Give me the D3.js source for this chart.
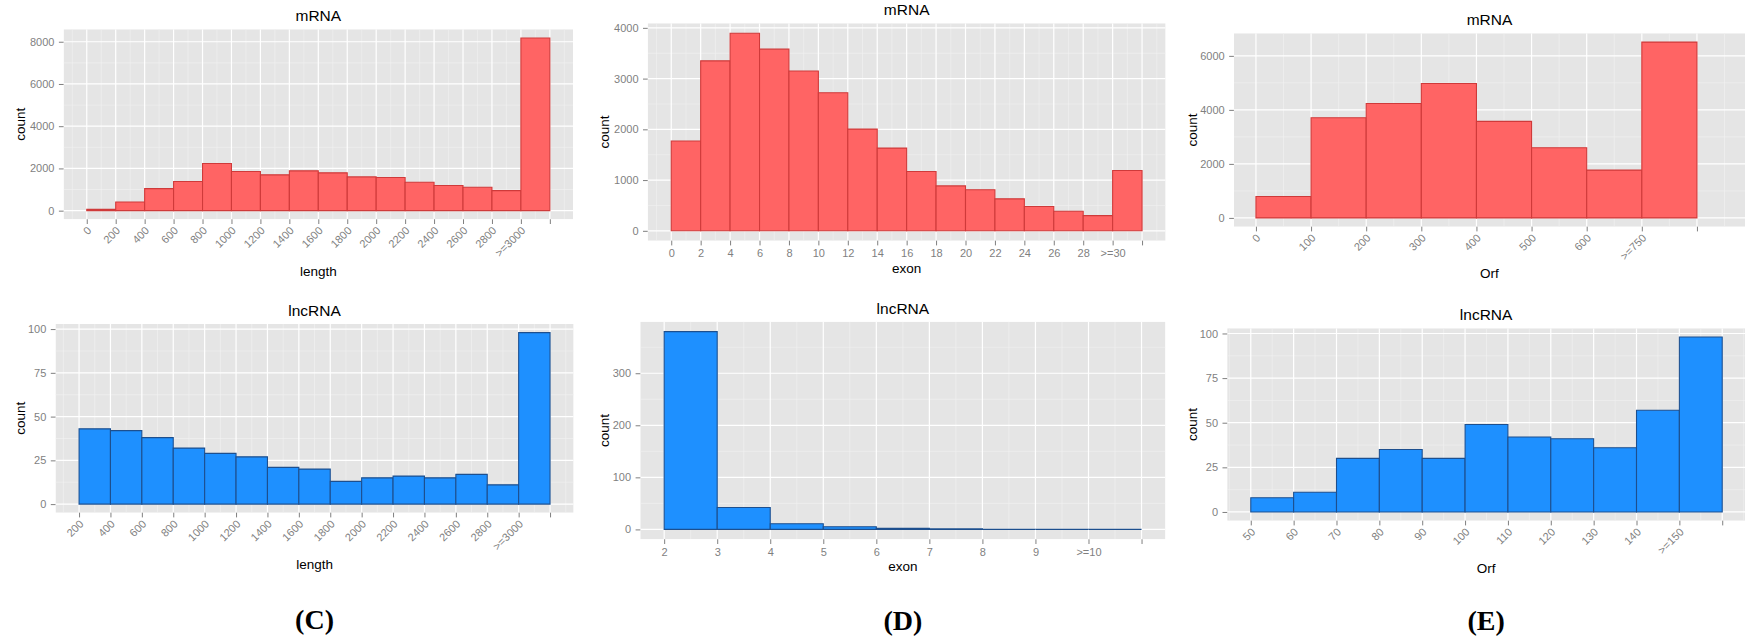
<!DOCTYPE html>
<html>
<head>
<meta charset="utf-8">
<script src="https://cdn.jsdelivr.net/npm/d3@7"></script>
<style>
  body { margin: 0; background: #fff; }
  svg { display: block; font-family: "Liberation Sans", Arial, sans-serif; }
</style>
</head>
<body>
<svg id="fig" width="1745" height="640"></svg>
<script>
// ---- data ----
const mrnaLengthLabels = ["0", "200", "400", "600", "800", "1000", "1200", "1400", "1600", "1800",
                          "2000", "2200", "2400", "2600", "2800", ">=3000"];
const mrnaLengthCounts = [60, 410, 1045, 1380, 2235, 1855, 1695, 1885, 1790, 1600,
                          1570, 1345, 1190, 1110, 950, 8180];

const mrnaExonLabels = ["0", "2", "4", "6", "8", "10", "12", "14", "16", "18",
                        "20", "22", "24", "26", "28", ">=30"];
const mrnaExonCounts = [1770, 3350, 3895, 3580, 3150, 2720, 2005, 1630, 1170, 885,
                        810, 630, 480, 385, 300, 1190];

const mrnaOrfLabels = ["0", "100", "200", "300", "400", "500", "600", ">=750"];
const mrnaOrfCounts = [790, 3710, 4235, 4975, 3575, 2600, 1770, 6510];

const lncLengthLabels = ["200", "400", "600", "800", "1000", "1200", "1400", "1600", "1800",
                         "2000", "2200", "2400", "2600", "2800", ">=3000"];
const lncLengthCounts = [43, 42, 38, 32, 29, 27, 21, 20, 13, 15, 16, 15, 17, 11, 98];

const lncExonLabels = ["2", "3", "4", "5", "6", "7", "8", "9", ">=10"];
const lncExonCounts = [380, 42, 11, 5, 2, 1, 0, 0, 0];

const lncOrfLabels = ["50", "60", "70", "80", "90", "100", "110", "120", "130", "140", ">=150"];
const lncOrfCounts = [8, 11, 30, 35, 30, 49, 42, 41, 36, 57, 98];

const yTicksMrnaLength = [0, 2000, 4000, 6000, 8000];
const yTicksMrnaExon = [0, 1000, 2000, 3000, 4000];
const yTicksMrnaOrf = [0, 2000, 4000, 6000];
const yTicksLncLength = [0, 25, 50, 75, 100];
const yTicksLncExon = [0, 100, 200, 300];
const yTicksLncOrf = [0, 25, 50, 75, 100];

const red = { fill: "#ff6464", stroke: "#cf3a3a" };
const blue = { fill: "#1e90ff", stroke: "#1d4f8e" };

const svg = d3.select("#fig");

// panel boxes (grey background area) in page pixels
const panels = [
  { title: "mRNA", xTitle: "length", labels: mrnaLengthLabels, counts: mrnaLengthCounts, yTicks: yTicksMrnaLength,
    colors: red, rotate: true, left: 63.6, right: 573, top: 29.3, bottom: 219.3, yTitleX: 20, xTitleY: 271 },
  { title: "mRNA", xTitle: "exon", labels: mrnaExonLabels, counts: mrnaExonCounts, yTicks: yTicksMrnaExon,
    colors: red, rotate: false, left: 647.7, right: 1165.6, top: 23.3, bottom: 240.7, yTitleX: 604, xTitleY: 268.5 },
  { title: "mRNA", xTitle: "Orf", labels: mrnaOrfLabels, counts: mrnaOrfCounts, yTicks: yTicksMrnaOrf,
    colors: red, rotate: true, left: 1233.9, right: 1719, bgRight: 1745, top: 33.3, bottom: 226.7, yTitleX: 1192, xTitleY: 273.5 },
  { title: "lncRNA", xTitle: "length", labels: lncLengthLabels, counts: lncLengthCounts, yTicks: yTicksLncLength,
    colors: blue, rotate: true, left: 55.5, right: 573.6, top: 324, bottom: 512.7, yTitleX: 20, xTitleY: 564.5,
    tag: "(C)", tagY: 619 },
  { title: "lncRNA", xTitle: "exon", labels: lncExonLabels, counts: lncExonCounts, yTicks: yTicksLncExon,
    colors: blue, rotate: false, left: 640.3, right: 1165.4, top: 321.7, bottom: 539.3, yTitleX: 604, xTitleY: 566,
    tag: "(D)", tagY: 620 },
  { title: "lncRNA", xTitle: "Orf", labels: lncOrfLabels, counts: lncOrfCounts, yTicks: yTicksLncOrf,
    colors: blue, rotate: true, left: 1227.2, right: 1745.8, bgRight: 1745, top: 328.3, bottom: 520.7, yTitleX: 1192, xTitleY: 568,
    tag: "(E)", tagY: 620 }
];

const tickColor = "#7f7f7f";
const tickLen = 4.7;
const fontSans = "'Liberation Sans', Arial, sans-serif";

panels.forEach(drawPanel);

function drawPanel(p, idx) {
  const n = p.counts.length;
  const bgRight = p.bgRight || p.right;
  const ymax = d3.max(p.counts);

  const x = d3.scaleLinear().domain([-0.05 * n, 1.05 * n]).range([p.left, p.right]);
  const y = d3.scaleLinear().domain([-0.05 * ymax, 1.05 * ymax]).range([p.bottom, p.top]);

  const g = svg.append("g");

  svg.append("defs").append("clipPath").attr("id", "clip" + idx)
    .append("rect").attr("x", p.left).attr("y", p.top)
    .attr("width", bgRight - p.left).attr("height", p.bottom - p.top);

  const plot = g.append("g").attr("clip-path", `url(#clip${idx})`);

  plot.append("rect")
    .attr("x", p.left).attr("y", p.top)
    .attr("width", bgRight - p.left).attr("height", p.bottom - p.top)
    .attr("fill", "#e5e5e5");

  // grid: minor first, then major
  const step = p.yTicks[1] - p.yTicks[0];
  const yMinor = [p.yTicks[0] - step / 2].concat(p.yTicks.map(t => t + step / 2))
    .filter(v => v > y.domain()[0] && v < y.domain()[1]);
  const xMinor = d3.range(-1, n + 3).map(i => i + 0.5)
    .filter(v => x(v) > p.left && x(v) < bgRight);
  const xMajor = d3.range(0, n + 3).filter(v => x(v) < bgRight);

  plot.selectAll(".ymin").data(yMinor).join("line")
    .attr("x1", p.left).attr("x2", bgRight)
    .attr("y1", d => y(d)).attr("y2", d => y(d))
    .attr("stroke", "#f2f2f2").attr("stroke-width", 0.6);
  plot.selectAll(".xmin").data(xMinor).join("line")
    .attr("y1", p.top).attr("y2", p.bottom)
    .attr("x1", d => x(d)).attr("x2", d => x(d))
    .attr("stroke", "#f2f2f2").attr("stroke-width", 0.6);
  plot.selectAll(".ymaj").data(p.yTicks).join("line")
    .attr("x1", p.left).attr("x2", bgRight)
    .attr("y1", d => y(d)).attr("y2", d => y(d))
    .attr("stroke", "#fff").attr("stroke-width", 1.2);
  plot.selectAll(".xmaj").data(xMajor).join("line")
    .attr("y1", p.top).attr("y2", p.bottom)
    .attr("x1", d => x(d)).attr("x2", d => x(d))
    .attr("stroke", "#fff").attr("stroke-width", 1.2);

  // bars as closed paths so that empty bins still show their outline on the baseline
  plot.selectAll(".bar").data(p.counts).join("path")
    .attr("d", (d, i) => `M${x(i)},${y(0)}V${y(d)}H${x(i + 1)}V${y(0)}Z`)
    .attr("fill", p.colors.fill)
    .attr("stroke", p.colors.stroke)
    .attr("stroke-width", 1.1);

  // y axis
  const yAxis = g.append("g").attr("transform", `translate(${p.left},0)`)
    .call(d3.axisLeft(y).tickValues(p.yTicks).tickFormat(d3.format("d"))
      .tickSize(tickLen).tickPadding(4.5));
  yAxis.select(".domain").remove();
  yAxis.selectAll("line").attr("stroke", tickColor);
  yAxis.selectAll("text").attr("fill", tickColor).style("font-size", "11px")
    .style("font-family", fontSans);

  // x axis
  const xAxis = g.append("g").attr("transform", `translate(0,${p.bottom})`)
    .call(d3.axisBottom(x).tickValues(d3.range(n + 1))
      .tickFormat(i => p.labels[i] || "").tickSize(tickLen).tickPadding(4));
  xAxis.select(".domain").remove();
  xAxis.selectAll("line").attr("stroke", tickColor);
  const xt = xAxis.selectAll("text").attr("fill", tickColor).style("font-size", "11px")
    .style("font-family", fontSans);
  if (p.rotate) {
    xt.attr("x", 0).attr("y", 0).attr("dy", "0.35em")
      .attr("text-anchor", "end")
      .attr("transform", `translate(2,${tickLen + 4.5}) rotate(-45)`);
  }

  const cx = (p.left + bgRight) / 2;

  g.append("text").attr("x", cx).attr("y", p.top - 8)
    .attr("text-anchor", "middle").style("font-size", "15.5px").attr("fill", "#000")
    .text(p.title);

  g.append("text").attr("x", cx).attr("y", p.xTitleY)
    .attr("text-anchor", "middle").attr("dominant-baseline", "central")
    .style("font-size", "13.5px").attr("fill", "#000")
    .text(p.xTitle);

  g.append("text")
    .attr("transform", `translate(${p.yTitleX},${(p.top + p.bottom) / 2}) rotate(-90)`)
    .attr("text-anchor", "middle").attr("dominant-baseline", "central")
    .style("font-size", "13.5px").attr("fill", "#000")
    .text("count");

  if (p.tag) {
    g.append("text").attr("x", cx).attr("y", p.tagY)
      .attr("text-anchor", "middle").attr("dominant-baseline", "central")
      .style("font-family", "'Liberation Serif', 'Times New Roman', serif")
      .style("font-weight", "bold").style("font-size", "28px").attr("fill", "#000")
      .text(p.tag);
  }
}
</script>
</body>
</html>
